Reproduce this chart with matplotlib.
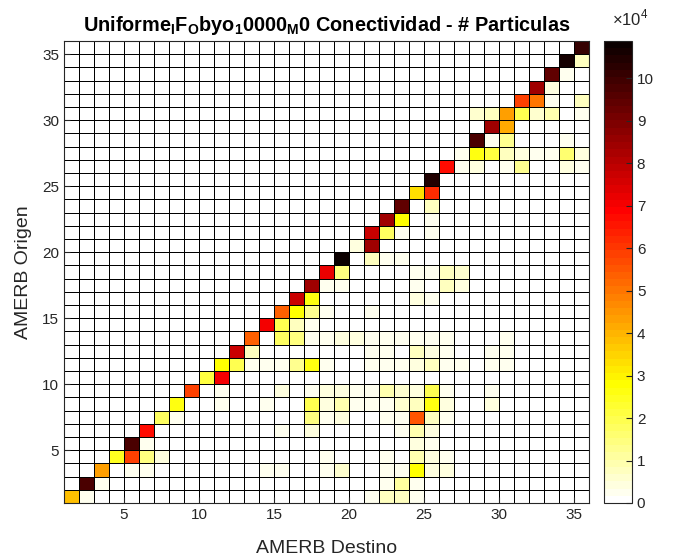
import numpy as np
import matplotlib
matplotlib.use('Agg')
import matplotlib.pyplot as plt

plt.rcParams['font.family'] = ['Liberation Sans', 'DejaVu Sans']
plt.rcParams['mathtext.fontset'] = 'custom'
plt.rcParams['mathtext.rm'] = 'Liberation Sans'
plt.rcParams['mathtext.bf'] = 'Liberation Sans:bold'

# datos: AMERB origen, AMERB destino, particulas (x1e4)
n_amerb = 35
origen = [1, 1, 1, 1, 1, 1, 1,
          2, 2, 2, 2, 2,
          3, 3, 3, 3, 3, 3, 3, 3, 3, 3, 3, 3,
          4, 4, 4, 4, 4, 4, 4, 4, 4,
          5, 5, 5, 5,
          6, 6, 6, 6, 6, 6,
          7, 7, 7, 7, 7, 7, 7, 7, 7, 7,
          8, 8, 8, 8, 8, 8, 8, 8, 8, 8, 8, 8, 8, 8,
          9, 9, 9, 9, 9, 9, 9, 9, 9, 9, 9, 9, 9, 9,
          10, 10,
          11, 11, 11, 11, 11, 11, 11, 11, 11, 11, 11, 11, 11, 11, 11, 11, 11,
          12, 12, 12, 12, 12, 12, 12, 12, 12,
          13, 13, 13, 13, 13, 13, 13, 13, 13, 13, 13, 13, 13, 13,
          14, 14, 14, 14,
          15, 15, 15, 15, 15,
          16, 16, 16, 16,
          17, 17, 17, 17, 17, 17,
          18, 18, 18, 18, 18, 18,
          19, 19, 19, 19,
          20, 20,
          21, 21, 21, 21,
          22, 22, 22,
          23, 23,
          24, 24,
          25,
          26, 26, 26, 26, 26, 26, 26,
          27, 27, 27, 27, 27, 27, 27, 27, 27,
          28, 28, 28, 28,
          29, 29,
          30, 30, 30, 30, 30, 30, 30,
          31, 31, 31, 31,
          32, 32,
          33, 33,
          34, 34,
          35]
destino = [1, 2, 21, 22, 23, 24, 28,
           2, 3, 22, 23, 24,
           3, 5, 6, 14, 15, 18, 19, 22, 23, 24, 25, 26,
           4, 5, 6, 7, 18, 22, 24, 25, 26,
           5, 6, 24, 25,
           6, 15, 17, 23, 24, 25,
           7, 8, 17, 18, 19, 22, 23, 24, 25, 26,
           8, 11, 14, 17, 18, 19, 20, 21, 22, 23, 24, 25, 26, 29,
           9, 11, 15, 17, 18, 19, 20, 21, 22, 23, 24, 25, 26, 29,
           10, 11,
           11, 12, 13, 14, 15, 16, 17, 18, 21, 22, 23, 24, 25, 26, 27, 29, 30,
           12, 13, 21, 22, 24, 25, 26, 29, 30,
           13, 15, 16, 17, 18, 19, 20, 21, 22, 23, 24, 25, 26, 30,
           14, 15, 16, 17,
           15, 16, 17, 18, 21,
           16, 17, 24, 25,
           17, 18, 19, 24, 26, 27,
           18, 19, 24, 25, 26, 27,
           19, 21, 22, 23,
           20, 21,
           21, 22, 23, 25,
           22, 23, 25,
           23, 25,
           24, 25,
           25,
           26, 27, 28, 30, 31, 34, 35,
           27, 28, 29, 30, 31, 32, 33, 34, 35,
           28, 29, 30, 34,
           29, 30,
           28, 29, 30, 31, 32, 33, 35,
           31, 32, 33, 35,
           32, 33,
           33, 34,
           34, 35,
           35]
particulas = [3.9, 0.2, 0.2, 0.8, 0.8, 0.3, 0.1,
              9.7, 0.3, 0.3, 1.1, 0.3,
              4.3, 0.3, 0.2, 0.2, 0.2, 0.2, 0.6, 0.3, 0.3, 2.8, 0.4, 0.4,
              2.5, 5.8, 1.5, 0.4, 0.2, 0.3, 0.9, 0.4, 0.3,
              9.7, 0.3, 0.4, 0.3,
              6.8, 0.2, 0.4, 0.2, 1.0, 0.4,
              1.8, 0.2, 1.5, 0.3, 0.4, 0.3, 0.2, 5.6, 0.8, 0.3,
              2.6, 0.2, 0.2, 2.0, 0.4, 1.0, 0.3, 0.3, 0.3, 0.6, 0.8, 2.6, 0.4, 0.4,
              5.8, 0.3, 0.4, 0.3, 0.4, 0.4, 0.3, 0.3, 1.0, 0.6, 0.4, 1.9, 0.3, 0.2,
              2.2, 7.0,
              2.8, 2.0, 0.2, 0.2, 0.3, 1.3, 2.6, 0.3, 0.2, 0.2, 0.2, 0.4, 0.7, 0.3, 0.2, 0.2, 0.2,
              7.8, 0.7, 0.2, 0.2, 0.8, 0.4, 0.2, 0.2, 0.3,
              5.3, 1.8, 1.5, 0.3, 0.3, 0.4, 0.5, 0.3, 0.3, 0.2, 0.3, 0.3, 0.2, 0.2,
              7.0, 1.9, 0.8, 0.3,
              5.3, 2.8, 1.3, 0.3, 0.2,
              7.8, 2.6, 0.4, 0.2,
              8.4, 0.2, 0.3, 0.3, 0.8, 0.4,
              7.2, 1.5, 0.3, 0.3, 0.8, 0.6,
              10.88, 0.8, 0.2, 0.2,
              0.4, 8.4,
              7.8, 1.8, 0.3, 0.3,
              8.4, 2.8, 0.3,
              9.4, 0.7,
              3.3, 6.2,
              10.5,
              6.8, 0.3, 0.5, 0.3, 1.3, 0.4, 0.3,
              0.2, 2.6, 2.1, 0.8, 0.4, 0.2, 0.2, 1.6, 0.4,
              9.8, 0.3, 1.3, 0.2,
              8.4, 4.2,
              0.6, 0.7, 4.3, 1.9, 0.6, 1.0, 0.2,
              5.8, 5.0, 0.3, 0.8,
              8.4, 0.4,
              9.4, 0.3,
              10.6, 0.7,
              10.2]
ticks_amerb = [5, 10, 15, 20, 25, 30, 35]
ticks_cbar = list(range(0, 11))

C = np.zeros((n_amerb, n_amerb))
for o, d, p in zip(origen, destino, particulas):
    C[o - 1, d - 1] = p * 1e4

fig = plt.figure(figsize=(6.73, 5.58), dpi=100)
ax = fig.add_axes([64/673, 55/558, 525/673, 462/558])
cax = fig.add_axes([604/673, 55/558, 28/673, 462/558])

edges = np.arange(1, n_amerb + 2)
mesh = ax.pcolormesh(edges, edges, C, cmap=plt.get_cmap('hot_r', 64),
                     vmin=0, vmax=C.max(), edgecolors='black', linewidth=0.6)
ax.set_xlim(1, n_amerb + 1)
ax.set_ylim(1, n_amerb + 1)
ax.set_xticks(ticks_amerb)
ax.set_yticks(ticks_amerb)
ax.tick_params(direction='in', labelsize=11, colors='#262626', length=4)
for s in ax.spines.values():
    s.set_color('#262626')
ax.set_xlabel('AMERB Destino', fontsize=14, color='#262626', labelpad=13)
ax.set_ylabel('AMERB Origen', fontsize=14, color='#262626', labelpad=7)
ax.set_title(r'Uniforme$_\mathbf{I}$F$_\mathbf{O}$byo$_\mathbf{1}$0000$_\mathbf{M}$0 Conectividad - # Particulas',
             fontsize=14.3, fontweight='bold', pad=7)

cb = fig.colorbar(mesh, cax=cax)
cb.set_ticks([t * 1e4 for t in ticks_cbar])
cb.set_ticklabels([str(t) for t in ticks_cbar])
cb.ax.tick_params(direction='in', labelsize=11, colors='#262626', length=4)
cb.outline.set_edgecolor('#262626')
fig.text(612/673, 1 - 18/558, r'$\times$10$^4$', fontsize=12, color='#262626', va='center')

fig.savefig('out.png', dpi=100)
